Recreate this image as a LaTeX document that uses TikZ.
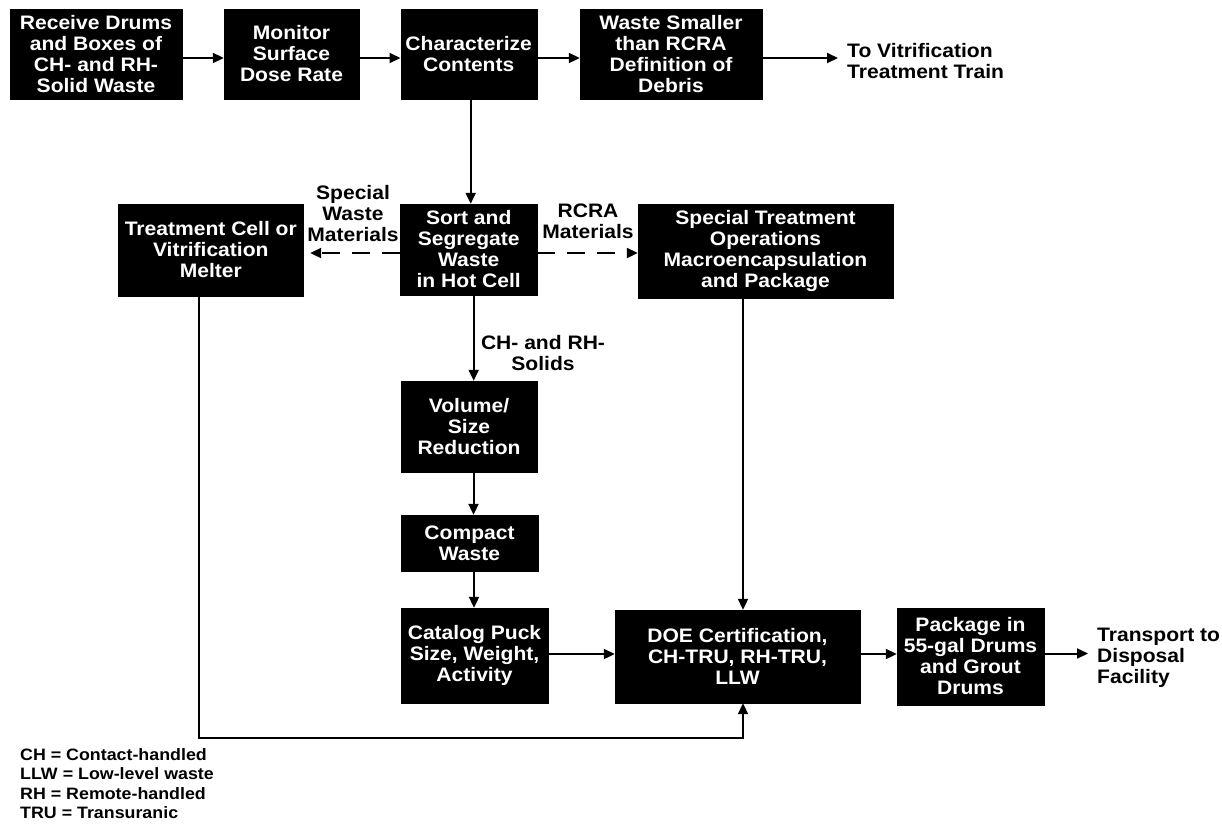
\documentclass[tikz,border=0pt]{standalone}
\usepackage{fontspec}
\setmainfont{Liberation Sans}[FakeStretch=1.08]
\usetikzlibrary{arrows.meta}
\begin{document}
\begin{tikzpicture}[x=1pt,y=-1pt,
  box/.style={fill=black,draw=black,text=white,align=center,inner sep=0pt,
    font=\fontsize{19.5}{21}\selectfont\bfseries},
  lbl/.style={align=center,inner sep=0pt,font=\fontsize{19.5}{21}\selectfont\bfseries},
  arr/.style={line width=2pt,-{Triangle[length=11pt,width=10pt]}},
  darr/.style={arr,dash pattern=on 18pt off 12pt},
  legend/.style={align=left,inner sep=0pt,font=\fontsize{16.5}{19.5}\selectfont\bfseries}]
\useasboundingbox (0,0) rectangle (1222,823);
\fill[white] (0,0) rectangle (1222,823);

% top row
\node[box,minimum width=172pt,minimum height=90pt] (recv) at (96,54) {Receive Drums\\and Boxes of\\CH- and RH-\\Solid Waste};
\node[box,minimum width=135pt,minimum height=90pt] (mon) at (291.5,54) {Monitor\\Surface\\Dose Rate};
\node[box,minimum width=136pt,minimum height=90pt] (char) at (468.7,54) {Characterize\\Contents};
\node[box,minimum width=182pt,minimum height=90pt] (waste) at (671,54) {Waste Smaller\\than RCRA\\Definition of\\Debris};
\node[lbl,anchor=west,align=left] (vit) at (847,61) {To Vitrification\\Treatment Train};

% middle row
\node[box,minimum width=184.4pt,minimum height=92pt] (treat) at (210.8,250) {Treatment Cell or\\Vitrification\\Melter};
\node[box,minimum width=136.5pt,minimum height=91pt] (sort) at (468.7,249.5) {Sort and\\Segregate\\Waste\\in Hot Cell};
\node[box,minimum width=255pt,minimum height=94pt] (spec) at (765.5,251) {Special Treatment\\Operations\\Macroencapsulation\\and Package};
\node[lbl] (swm) at (353,214) {Special\\Waste\\Materials};
\node[lbl] (rcra) at (588,221) {RCRA\\Materials};

% vertical chain
\node[lbl] (sol) at (543,353) {CH- and RH-\\Solids};
\node[box,minimum width=136pt,minimum height=91pt] (vol) at (469,426.5) {Volume/\\Size\\Reduction};
\node[box,minimum width=137pt,minimum height=56pt] (comp) at (469.5,543) {Compact\\Waste};
\node[box,minimum width=147pt,minimum height=95pt] (cat) at (474.5,655.5) {Catalog Puck\\Size, Weight,\\Activity};

% bottom row
\node[box,minimum width=245pt,minimum height=93pt] (doe) at (737.5,656.5) {DOE Certification,\\CH-TRU, RH-TRU,\\LLW};
\node[box,minimum width=147pt,minimum height=97pt] (pkg) at (970.5,656.5) {Package in\\55-gal Drums\\and Grout\\Drums};
\node[lbl,anchor=west,align=left] (trans) at (1097,658) {Transport to\\Disposal\\Facility};

% legend
\node[legend,anchor=north west] (leg) at (20,748) {CH = Contact-handled\\LLW = Low-level waste\\RH = Remote-handled\\TRU = Transuranic};

% connectors top row
\draw[arr] ([yshift=-4pt]recv.east) -- ([yshift=-4pt]recv.east -| mon.west);
\draw[arr] ([yshift=-4pt]mon.east) -- ([yshift=-4pt]mon.east -| char.west);
\draw[arr] ([yshift=-4pt]char.east) -- ([yshift=-4pt]char.east -| waste.west);
\draw[arr,shorten >=9pt] ([yshift=-4pt]waste.east) -- ([yshift=-4pt]waste.east -| vit.west);
\draw[arr] ([xshift=2pt]char.south) -- ([xshift=2pt]char.south |- sort.north);

% dashed branches
\draw[darr,shorten >=7pt] ([yshift=-3.5pt]sort.west) -- ([yshift=-3.5pt]sort.west -| treat.east);
\draw[darr] ([yshift=-3.5pt]sort.east) -- ([yshift=-3.5pt]sort.east -| spec.west);

% vertical chain
\draw[arr] ([xshift=5pt]sort.south) -- ([xshift=5pt]sort.south |- vol.north);
\draw[arr] ([xshift=4.5pt]vol.south) -- ([xshift=4.5pt]vol.south |- comp.north);
\draw[arr] ([xshift=4.5pt]comp.south) -- ([xshift=4.5pt]comp.south |- cat.north);
\draw[arr] ([yshift=1.5pt]cat.east) -- ([yshift=1.5pt]cat.east -| doe.west);
\draw[arr] ([xshift=-22.5pt]spec.south) -- ([xshift=-22.5pt]spec.south |- doe.north);
\draw[arr] ([yshift=2.5pt]doe.east) -- ([yshift=2.5pt]doe.east -| pkg.west);
\draw[arr,shorten >=9pt] ([yshift=3pt]pkg.east) -- ([yshift=3pt]pkg.east -| trans.west);

% feedback from treatment cell
\coordinate (corner) at (743,738);
\draw[arr] ([xshift=-11.8pt]treat.south) |- (corner) -- (corner |- doe.south);
\end{tikzpicture}
\end{document}
